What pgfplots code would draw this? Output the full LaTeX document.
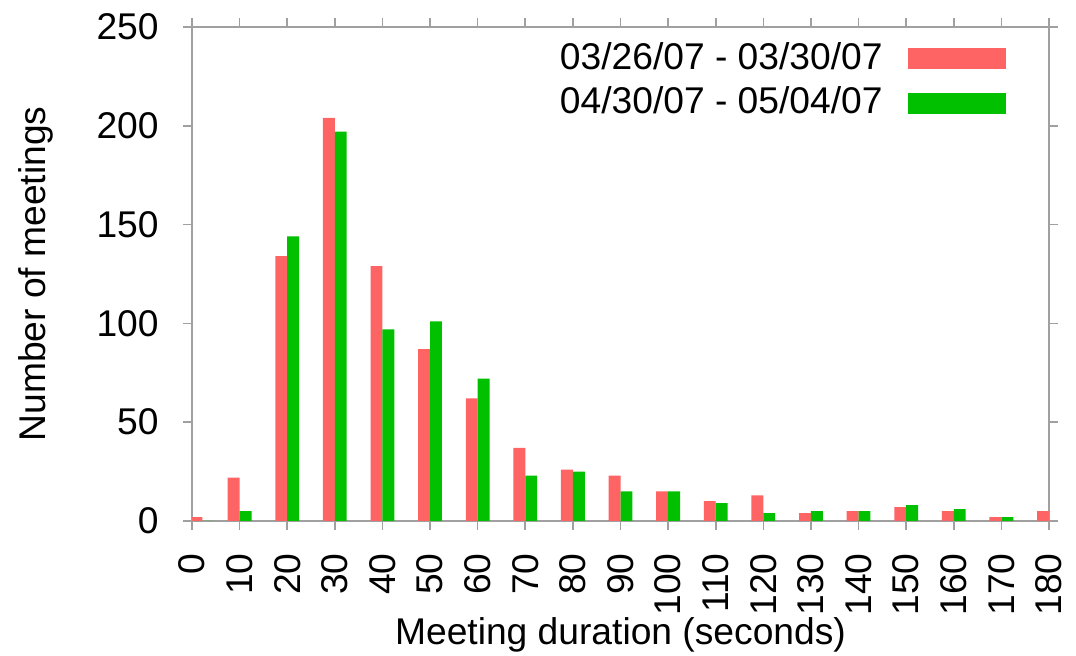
\documentclass[border=0pt]{standalone}
\usepackage{fontspec}
\setmainfont{Liberation Sans}
\usepackage{pgfplots}
\usepackage{pgfplotstable}
\pgfplotsset{compat=1.18}
\definecolor{barred}{HTML}{FF6464}
\definecolor{bargreen}{HTML}{00C000}
\definecolor{axgray}{HTML}{A0A0A0}
\pgfplotstableread{
x r g
2.2 2 0
10 22 5
20 134 144
30 204 197
40 129 97
50 87 101
60 62 72
70 37 23
80 26 25
90 23 15
100 15 15
110 10 9
120 13 4
130 4 5
140 5 5
150 7 8
160 5 6
170 2 2
180 5 0
}\datatable
\begin{document}
\fontsize{18.6}{22}\selectfont
\begin{tikzpicture}
\begin{axis}[
  at={(0pt,0pt)}, anchor=south west,
  scale only axis, width=428.5pt, height=247pt,
  xmin=0, xmax=180, ymin=0, ymax=250,
  xtick={0,10,...,180}, ytick={0,50,...,250},
  /pgf/number format/assume math mode=true,
  tick align=outside, major tick length=4.5pt,
  every tick/.style={axgray, line width=0.8pt},
  axis line style={axgray, line width=1pt},
  yticklabel style={anchor=east, inner sep=0pt, xshift=-12pt},
  xticklabel shift=11.5pt,
  xticklabel style={rotate=90, anchor=east, inner sep=0pt},
  every axis x label/.style={at={(axis description cs:0.5,0)}, anchor=base, yshift=-62pt},
  every axis y label/.style={at={(axis description cs:0,0.5)}, xshift=-87pt, rotate=90, anchor=north, inner sep=0pt},
  xlabel={Meeting duration (seconds)},
  ylabel={Number of meetings},
  legend plot pos=right,
  legend cell align=right,
  legend image code/.code={\fill[#1] (0pt,-5.25pt) rectangle (49pt,5.25pt);},
  legend style={at={(axis description cs:1,1)}, anchor=north east, xshift=-21.5pt, yshift=-7.5pt,
    draw=none, fill=none, inner sep=0pt, row sep=6pt, column sep=12.5pt,
    nodes={inner sep=0pt}},
]
\addplot[ybar, bar width=2.5, bar shift=-1.25, fill=barred, draw=none] table[x=x, y=r] {\datatable};
\addlegendentry{03/26/07 - 03/30/07}
\addplot[ybar, bar width=2.5, bar shift=1.25, fill=bargreen, draw=none] table[x=x, y=g] {\datatable};
\addlegendentry{04/30/07 - 05/04/07}
\end{axis}
\pgfresetboundingbox
\path[use as bounding box] (-96pt,-67.5pt) rectangle (442pt,260.5pt);
\end{tikzpicture}
\end{document}
